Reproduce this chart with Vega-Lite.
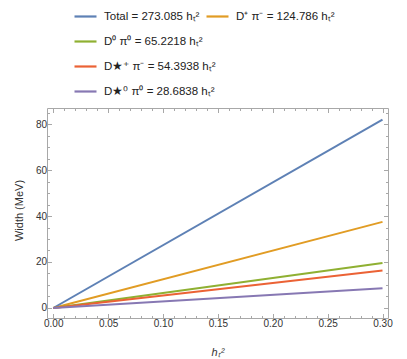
{
  "$schema": "https://vega.github.io/schema/vega-lite/v6.json",
  "autosize": "none",
  "width": 341,
  "height": 210,
  "padding": {"left": 47, "top": 108, "right": 19, "bottom": 41},
  "background": "white",
  "config": {
    "view": {"stroke": "#a8a8a8", "strokeWidth": 1},
    "font": "Liberation Sans",
    "axis": {"domain": false, "grid": false, "labelFont": "Liberation Sans", "labelFontSize": 10, "labelColor": "#333333", "tickColor": "#a8a8a8", "titleFont": "Liberation Sans", "titleFontWeight": "normal", "titleColor": "#333333"},
    "legend": {"labelFont": "Liberation Sans", "labelFontSize": 11.5, "labelColor": "#222222", "symbolType": "stroke", "symbolSize": 484, "symbolStrokeWidth": 2.2, "labelOffset": 6, "padding": 0, "rowPadding": 7, "labelLimit": 400, "title": null}
  },
  "data": {"values": [
    {"series": "Total = 273.085 hₜ²", "h2": 0, "width": 0},
    {"series": "Total = 273.085 hₜ²", "h2": 0.3, "width": 81.93},
    {"series": "D⁺ π⁻ = 124.786 hₜ²", "h2": 0, "width": 0},
    {"series": "D⁺ π⁻ = 124.786 hₜ²", "h2": 0.3, "width": 37.44},
    {"series": "D⁰ π⁰ = 65.2218 hₜ²", "h2": 0, "width": 0},
    {"series": "D⁰ π⁰ = 65.2218 hₜ²", "h2": 0.3, "width": 19.57},
    {"series": "D★⁺ π⁻ = 54.3938 hₜ²", "h2": 0, "width": 0},
    {"series": "D★⁺ π⁻ = 54.3938 hₜ²", "h2": 0.3, "width": 16.32},
    {"series": "D★⁰ π⁰ = 28.6838 hₜ²", "h2": 0, "width": 0},
    {"series": "D★⁰ π⁰ = 28.6838 hₜ²", "h2": 0.3, "width": 8.61}
  ]},
  "resolve": {"scale": {"color": "independent"}, "axis": {"x": "independent", "y": "independent"}},
  "layer": [
    {
      "transform": [{"filter": "datum.series == 'D⁺ π⁻ = 124.786 hₜ²'"}],
      "mark": {"type": "line", "strokeWidth": 2, "clip": true},
      "encoding": {
        "x": {"field": "h2", "type": "quantitative", "scale": {"domain": [-0.0057, 0.305], "nice": false, "zero": false},
          "axis": {"orient": "top", "title": null, "labels": false, "values": [0,0.01,0.02,0.03,0.04,0.05,0.06,0.07,0.08,0.09,0.1,0.11,0.12,0.13,0.14,0.15,0.16,0.17,0.18,0.19,0.2,0.21,0.22,0.23,0.24,0.25,0.26,0.27,0.28,0.29,0.3],
            "tickSize": {"condition": {"test": "abs(datum.value*20 - round(datum.value*20)) < 0.01", "value": -4.5}, "value": -2.5}}},
        "y": {"field": "width", "type": "quantitative", "scale": {"domain": [-4.35, 86.96], "nice": false, "zero": false},
          "axis": {"orient": "right", "title": null, "labels": false, "values": [0,5,10,15,20,25,30,35,40,45,50,55,60,65,70,75,80,85],
            "tickSize": {"condition": {"test": "datum.value % 20 == 0", "value": -4.5}, "value": -2.5}}},
        "color": {"field": "series", "type": "nominal", "scale": {"domain": ["D⁺ π⁻ = 124.786 hₜ²"], "range": ["#E19C24"]},
          "legend": {"orient": "none", "legendX": 158, "legendY": -104}}
      }
    },
    {
      "transform": [{"filter": "datum.series != 'D⁺ π⁻ = 124.786 hₜ²'"}],
      "mark": {"type": "line", "strokeWidth": 2, "clip": true},
      "encoding": {
        "x": {"field": "h2", "type": "quantitative", "scale": {"domain": [-0.0057, 0.305], "nice": false, "zero": false},
          "axis": {"orient": "bottom", "title": "hₜ²", "titleFontStyle": "italic", "titleFontSize": 11, "titleX": 170.5, "titleY": 34, "titleBaseline": "middle", "format": ".2f",
            "values": [0,0.01,0.02,0.03,0.04,0.05,0.06,0.07,0.08,0.09,0.1,0.11,0.12,0.13,0.14,0.15,0.16,0.17,0.18,0.19,0.2,0.21,0.22,0.23,0.24,0.25,0.26,0.27,0.28,0.29,0.3],
            "labelExpr": "abs(datum.value*20 - round(datum.value*20)) < 0.01 ? datum.label : ''", "labelPadding": 5, "labelOverlap": false,
            "tickSize": {"condition": {"test": "abs(datum.value*20 - round(datum.value*20)) < 0.01", "value": -4.5}, "value": -2.5}}},
        "y": {"field": "width", "type": "quantitative", "scale": {"domain": [-4.35, 86.96], "nice": false, "zero": false},
          "axis": {"orient": "left", "title": "Width (MeV)", "titleFontSize": 11, "titleX": -28, "titleY": 102, "titleAngle": -90, "titleBaseline": "middle", "titleAlign": "center",
            "values": [0,5,10,15,20,25,30,35,40,45,50,55,60,65,70,75,80,85],
            "labelExpr": "datum.value % 20 == 0 ? datum.label : ''", "labelPadding": 5, "labelOverlap": false,
            "tickSize": {"condition": {"test": "datum.value % 20 == 0", "value": -4.5}, "value": -2.5}}},
        "color": {"field": "series", "type": "nominal", "sort": null,
          "scale": {"domain": ["Total = 273.085 hₜ²", "D⁰ π⁰ = 65.2218 hₜ²", "D★⁺ π⁻ = 54.3938 hₜ²", "D★⁰ π⁰ = 28.6838 hₜ²"], "range": ["#5E81B5", "#8FB032", "#EB6235", "#8778B3"]},
          "legend": {"orient": "none", "legendX": 26, "legendY": -104, "direction": "vertical"}}
      }
    }
  ]
}
